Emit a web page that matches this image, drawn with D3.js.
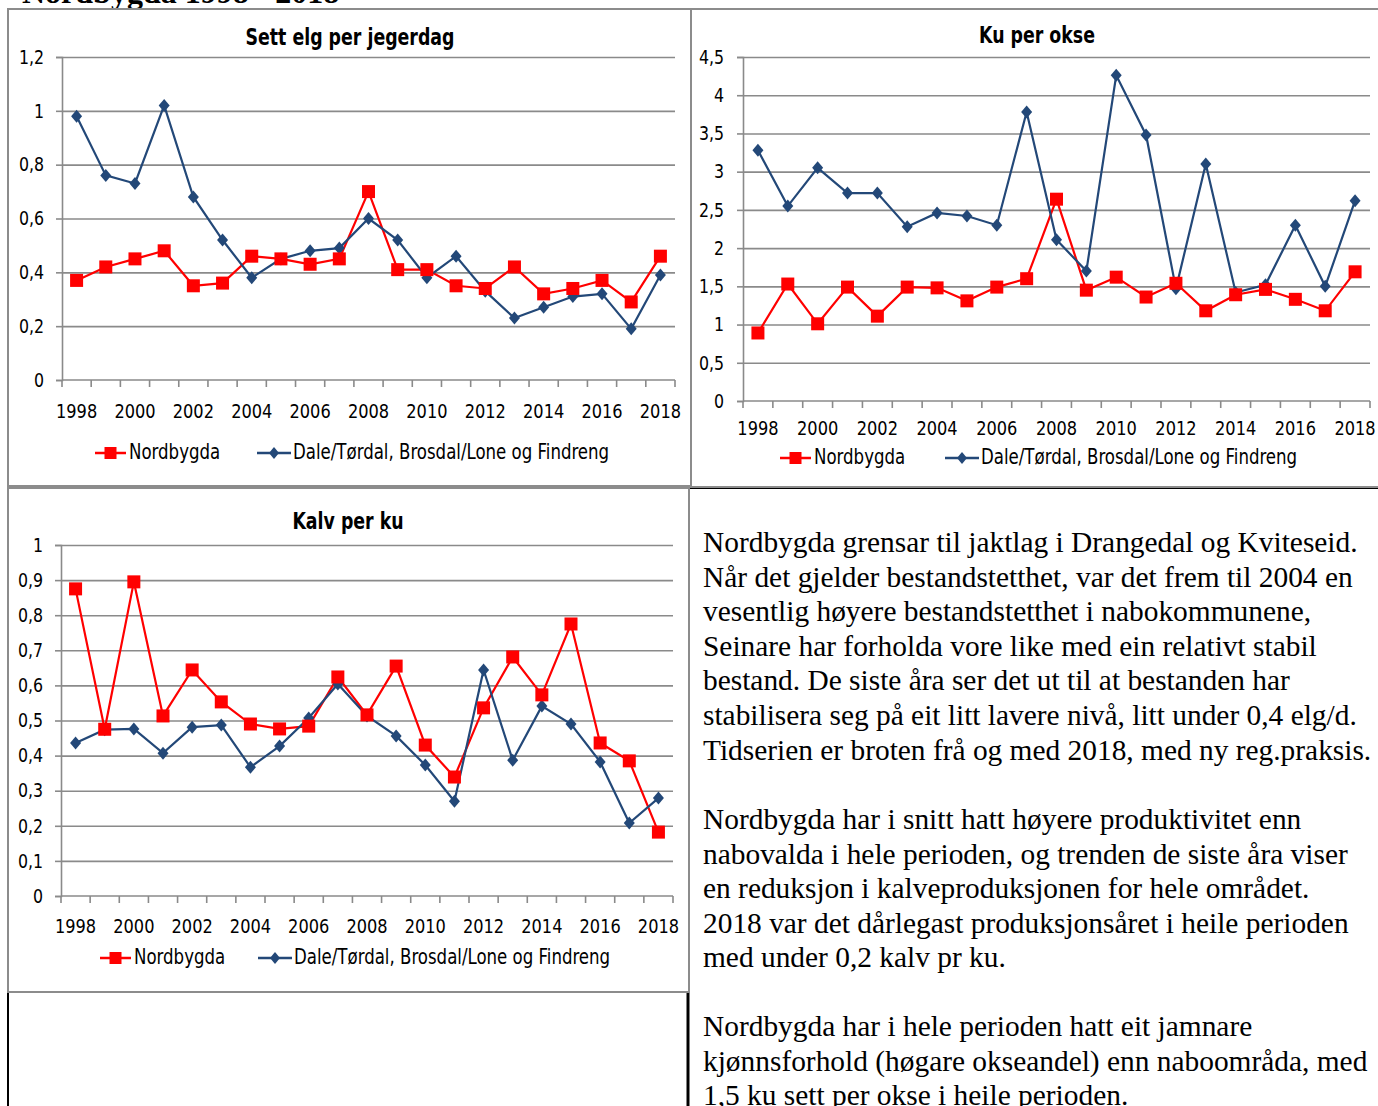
<!DOCTYPE html>
<html><head><meta charset="utf-8">
<script src="https://cdn.jsdelivr.net/npm/d3@7"></script>
<style>
html,body{margin:0;padding:0;background:#fff;}
svg{display:block;}
.lab{font-family:"Liberation Sans Narrow","DejaVu Sans Condensed","Liberation Sans",sans-serif;fill:#000;}
.body{font-family:"Liberation Serif","Times New Roman",serif;fill:#000;}
</style></head>
<body>
<svg id="page" width="1378" height="1106"></svg>
<script>
// ---------- DATA ----------
const years = d3.range(1998, 2019);
const yearLabels = ["1998","2000","2002","2004","2006","2008","2010","2012","2014","2016","2018"];
const seriesNames = ["Nordbygda", "Dale/Tørdal, Brosdal/Lone og Findreng"];

const settElgNordbygda = [0.37,0.42,0.45,0.48,0.35,0.36,0.46,0.45,0.43,0.45,0.70,0.41,0.41,0.35,0.34,0.42,0.32,0.34,0.37,0.29,0.46];
const settElgNabo      = [0.98,0.76,0.73,1.02,0.68,0.52,0.38,0.45,0.48,0.49,0.60,0.52,0.38,0.46,0.33,0.23,0.27,0.31,0.32,0.19,0.39];
const settElgTicks = [0,0.2,0.4,0.6,0.8,1,1.2];

const kuOkseNordbygda = [0.89,1.53,1.01,1.49,1.11,1.49,1.48,1.31,1.49,1.60,2.64,1.45,1.62,1.36,1.54,1.18,1.39,1.46,1.33,1.18,1.69];
const kuOkseNabo      = [3.28,2.55,3.05,2.72,2.72,2.28,2.46,2.42,2.30,3.78,2.11,1.70,4.26,3.48,1.47,3.10,1.42,1.52,2.30,1.50,2.62];
const kuOkseTicks = [0,0.5,1,1.5,2,2.5,3,3.5,4,4.5];

const kalvKuNordbygda = [0.875,0.475,0.895,0.513,0.644,0.553,0.49,0.476,0.484,0.624,0.516,0.655,0.43,0.339,0.536,0.681,0.573,0.775,0.436,0.385,0.182];
const kalvKuNabo      = [0.436,0.474,0.476,0.407,0.481,0.487,0.367,0.427,0.507,0.604,0.513,0.456,0.373,0.27,0.644,0.387,0.541,0.49,0.382,0.208,0.279];
const kalvKuTicks = [0,0.1,0.2,0.3,0.4,0.5,0.6,0.7,0.8,0.9,1];

const pageTitle = "Nordbygda 1998 - 2018";
const para1 = ["Nordbygda grensar til jaktlag i Drangedal og Kviteseid.",
  "Når det gjelder bestandstetthet, var det frem til 2004 en",
  "vesentlig høyere bestandstetthet i nabokommunene,",
  "Seinare har forholda vore like med ein relativt stabil",
  "bestand. De siste åra ser det ut til at bestanden har",
  "stabilisera seg på eit litt lavere nivå, litt under 0,4 elg/d.",
  "Tidserien er broten frå og med 2018, med ny reg.praksis."];
const para2 = ["Nordbygda har i snitt hatt høyere produktivitet enn",
  "nabovalda i hele perioden, og trenden de siste åra viser",
  "en reduksjon i kalveproduksjonen for hele området.",
  "2018 var det dårlegast produksjonsåret i heile perioden",
  "med under 0,2 kalv pr ku."];
const para3 = ["Nordbygda har i hele perioden hatt eit jamnare",
  "kjønnsforhold (høgare okseandel) enn naboområda, med",
  "1,5 ku sett per okse i heile perioden."];

// ---------- STYLE ----------
const RED = "#ff0000", BLUE = "#234878", GRID = "#8a8a8a", FRAME = "#8c8c8c";
const svg = d3.select("#page");
const fmt = v => String(v).replace(".", ",");
const SX = 0.9; // horizontal condensing to mimic Calibri

// page heading (cut off at top)
svg.append("text").attr("class","body").attr("x",22).attr("y",3)
  .attr("font-size",32).attr("font-weight","bold").text(pageTitle);

// table borders
svg.append("line").attr("x1",8).attr("x2",1378).attr("y1",9).attr("y2",9).attr("stroke","#000").attr("stroke-width",2);
svg.append("line").attr("x1",8).attr("x2",8).attr("y1",9).attr("y2",1106).attr("stroke","#000").attr("stroke-width",2);
svg.append("line").attr("x1",690).attr("x2",1378).attr("y1",488).attr("y2",488).attr("stroke","#000").attr("stroke-width",2);
svg.append("line").attr("x1",688).attr("x2",688).attr("y1",992).attr("y2",1106).attr("stroke","#000").attr("stroke-width",3);

function condText(parent, x, y, str, size, weight, anchor){
  return parent.append("text").attr("class","lab")
    .attr("transform",`translate(${x},${y}) scale(${SX},1)`)
    .attr("text-anchor",anchor||"start").attr("dominant-baseline","middle")
    .attr("font-size",size).attr("font-weight",weight||"normal").text(str);
}

function chart(cfg){
  const g = svg.append("g");
  g.append("rect").attr("x",cfg.frame[0]).attr("y",cfg.frame[1]).attr("width",cfg.frame[2]).attr("height",cfg.frame[3])
    .attr("fill","none").attr("stroke",FRAME).attr("stroke-width",2);
  const x = d3.scaleBand().domain(years.map(String)).range([cfg.left, cfg.right]).padding(0);
  const y = d3.scaleLinear().domain([0, d3.max(cfg.ticks)]).range([cfg.bottom, cfg.top]);
  // grid
  g.append("g").attr("transform",`translate(${cfg.left},0)`)
    .call(d3.axisLeft(y).tickValues(cfg.ticks.slice(1)).tickSize(-(cfg.right-cfg.left)).tickFormat(""))
    .call(s=>{s.select(".domain").remove(); s.selectAll("line").attr("stroke",GRID).attr("stroke-width",1.6);});
  // y axis
  g.append("g").attr("transform",`translate(${cfg.left},0)`)
    .call(d3.axisLeft(y).tickValues(cfg.ticks).tickSize(6).tickPadding(cfg.ypad).tickFormat(fmt))
    .call(s=>{s.select(".domain").attr("stroke",GRID).attr("stroke-width",1.6);
      s.selectAll("line").attr("stroke",GRID).attr("stroke-width",1.6);
      s.selectAll("text").attr("class","lab").attr("font-size",19.5).attr("fill","#000")
        .attr("x",-(cfg.ypad+6)/SX).attr("transform",`scale(${SX},1)`);});
  // x axis line + boundary ticks
  g.append("line").attr("x1",cfg.left).attr("x2",cfg.right).attr("y1",cfg.bottom).attr("y2",cfg.bottom)
    .attr("stroke",GRID).attr("stroke-width",1.6);
  g.selectAll(".bt").data(d3.range(years.length+1)).join("line")
    .attr("x1",i=>cfg.left+i*x.step()).attr("x2",i=>cfg.left+i*x.step())
    .attr("y1",cfg.bottom).attr("y2",cfg.bottom+7).attr("stroke",GRID).attr("stroke-width",1.6);
  g.append("g").attr("transform",`translate(0,${cfg.bottom})`)
    .call(d3.axisBottom(x).tickValues(yearLabels).tickSize(0).tickPadding(cfg.xpad))
    .call(s=>{s.select(".domain").remove();
      s.selectAll("text").attr("class","lab").attr("font-size",20).attr("fill","#000").attr("transform",`scale(${SX},1)`);});
  // series
  const cx = i => x(String(years[i])) + x.bandwidth()/2;
  const line = d3.line().x((d,i)=>cx(i)).y(d=>y(d));
  g.append("path").datum(cfg.red).attr("d",line).attr("fill","none").attr("stroke",RED).attr("stroke-width",2.2);
  g.append("path").datum(cfg.blue).attr("d",line).attr("fill","none").attr("stroke",BLUE).attr("stroke-width",2.2);
  g.selectAll(".dm").data(cfg.blue).join("path")
    .attr("transform",(d,i)=>`translate(${cx(i)},${y(d)})`)
    .attr("d","M0,-6.5L5.5,0L0,6.5L-5.5,0Z").attr("fill",BLUE);
  g.selectAll(".sq").data(cfg.red).join("rect")
    .attr("x",(d,i)=>cx(i)-6.5).attr("y",d=>y(d)-6.5).attr("width",13).attr("height",13).attr("fill",RED);
  // title
  condText(g, cfg.titleX, cfg.titleY, cfg.title, 23, "bold", "middle").attr("transform",`translate(${cfg.titleX},${cfg.titleY}) scale(0.84,1)`);
  // legend
  const L = cfg.legend, ly = L.y;
  g.append("line").attr("x1",L.x1).attr("x2",L.x1+31).attr("y1",ly).attr("y2",ly).attr("stroke",RED).attr("stroke-width",2.5);
  g.append("rect").attr("x",L.x1+15.5-6).attr("y",ly-6).attr("width",12).attr("height",12).attr("fill",RED);
  condText(g, L.x1+34, ly, seriesNames[0], 20.5);
  g.append("line").attr("x1",L.x2).attr("x2",L.x2+34).attr("y1",ly).attr("y2",ly).attr("stroke",BLUE).attr("stroke-width",2.5);
  g.append("path").attr("transform",`translate(${L.x2+17},${ly})`).attr("d","M0,-6L5,0L0,6L-5,0Z").attr("fill",BLUE);
  condText(g, L.x2+36, ly, seriesNames[1], 20.5);
}

chart({title:"Sett elg per jegerdag", frame:[8,9,683,477], left:62, right:675, top:57, bottom:380,
  ticks:settElgTicks, red:settElgNordbygda, blue:settElgNabo, titleX:350, titleY:39, ypad:12, xpad:24,
  legend:{y:453, x1:95, x2:257}});
chart({title:"Ku per okse", frame:[691,9,690,478], left:743, right:1370, top:57, bottom:401,
  ticks:kuOkseTicks, red:kuOkseNordbygda, blue:kuOkseNabo, titleX:1037, titleY:37, ypad:13, xpad:20,
  legend:{y:458, x1:780, x2:945}});
chart({title:"Kalv per ku", frame:[8,488,681,504], left:61, right:673, top:545, bottom:896,
  ticks:kalvKuTicks, red:kalvKuNordbygda, blue:kalvKuNabo, titleX:348, titleY:523, ypad:12, xpad:23,
  legend:{y:958, x1:100, x2:258}});

// body text
function para(lines, y0){
  const t = svg.append("text").attr("class","body").attr("font-size",29.4);
  lines.forEach((s,i)=>t.append("tspan").attr("x",703).attr("y",y0+i*34.6).text(s));
}
para(para1, 552);
para(para2, 829);
para(para3, 1036);
</script>
</body></html>
